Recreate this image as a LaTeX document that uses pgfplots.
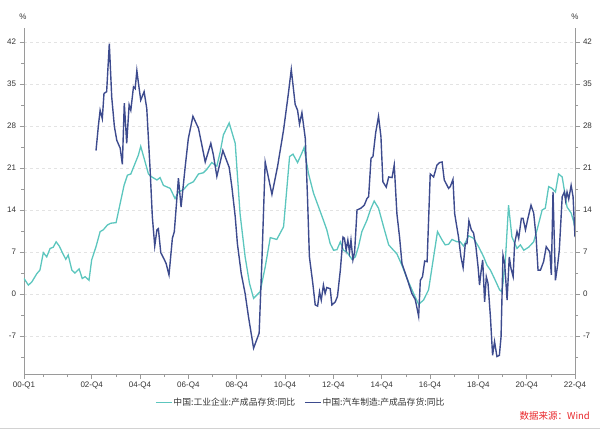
\documentclass[border=0pt]{standalone}
\usepackage{fontspec}
\setmainfont{Liberation Sans}
\newfontfamily\cjk{Noto Sans CJK SC}
\usepackage{pgfplots}
\pgfplotsset{compat=1.18}
\definecolor{teal1}{HTML}{5CC6BE}
\definecolor{navy1}{HTML}{3D4B8E}
\definecolor{axgray}{HTML}{9A9A9A}
\definecolor{srcred}{HTML}{E8262A}
\pgfplotsset{
  common/.style={
    at={(24pt,55pt)}, anchor=south west,
    scale only axis, width=551pt, height=346pt,
    xmin=2000, xmax=2022.8, ymin=-13.3, ymax=44.3,
    ytick={-7,0,7,14,21,28,35,42},
    minor ytick={-10.5,-3.5,3.5,10.5,17.5,24.5,31.5,38.5},
    tick align=outside,
    major tick length=4.5pt, minor tick length=3pt,
    axis line style={draw=axgray, line width=0.6pt},
    every tick/.style={draw=axgray, line width=0.6pt},
    tick label style={font=\fontsize{8}{9}\selectfont, text=black!80},
    /pgf/number format/assume math mode=true,
  }
}
\begin{document}
\begin{tikzpicture}
\useasboundingbox (0,0) rectangle (600pt,429pt);
\begin{axis}[common,
  axis x line*=bottom, axis y line*=left,
  xtick={2000,2002.8,2004.8,2006.8,2008.8,2010.8,2012.8,2014.8,2016.8,2018.8,2020.8,2022.8},
  xticklabels={00-Q1,02-Q4,04-Q4,06-Q4,08-Q4,10-Q4,12-Q4,14-Q4,16-Q4,18-Q4,20-Q4,22-Q4},
  minor xtick={2000.8,2001.8,2003.8,2005.8,2007.8,2009.8,2011.8,2013.8,2015.8,2017.8,2019.8,2021.8},
  ymajorgrids, major grid style={dashed, gray!22, line width=0.5pt},
  legend style={at={(axis description cs:0.2377,-0.0818)}, anchor=west, draw=none, fill=none,
    legend columns=2, font=\cjk\fontsize{8.8}{10}\selectfont, text=black!80,
    inner sep=0pt, nodes={inner sep=1pt},
    /tikz/every even column/.append style={column sep=8pt}},
  legend image code/.code={\draw[#1] (0pt,0pt) -- (16pt,0pt);},
]
\addplot[teal1, line width=1.3pt] coordinates {
(2000.00,2.6)(2000.18,1.5)(2000.32,2.0)(2000.53,3.4)(2000.66,4.0)(2000.80,6.9)(2000.94,6.2)
(2001.08,7.6)(2001.21,7.8)(2001.33,8.7)(2001.46,8.0)(2001.60,6.8)(2001.73,5.8)(2001.83,6.5)
(2001.98,4.0)(2002.11,3.5)(2002.28,4.2)(2002.41,2.6)(2002.53,2.9)(2002.69,2.3)(2002.80,5.7)
(2002.98,7.9)(2003.15,10.4)(2003.28,10.7)(2003.45,11.5)(2003.59,11.8)(2003.81,11.9)(2003.98,15.1)
(2004.14,18.1)(2004.28,19.8)(2004.42,20.0)(2004.60,21.8)(2004.73,23.1)(2004.83,24.6)(2004.97,22.6)
(2005.15,20.0)(2005.29,19.5)(2005.50,19.0)(2005.63,19.4)(2005.77,18.1)(2006.05,17.6)(2006.25,15.9)
(2006.39,17.0)(2006.60,17.4)(2006.80,18.3)(2007.01,18.7)(2007.22,20.0)(2007.42,20.2)(2007.57,20.8)
(2007.77,21.9)(2007.98,21.3)(2008.12,23.7)(2008.25,26.5)(2008.49,28.5)(2008.74,25.1)(2008.94,13.4)
(2009.15,6.2)(2009.33,1.8)(2009.50,-0.7)(2009.77,0.4)(2009.98,4.5)(2010.19,9.4)(2010.46,9.1)
(2010.74,11.2)(2010.99,22.9)(2011.13,23.3)(2011.32,21.9)(2011.50,23.5)(2011.59,24.4)(2011.77,20.1)
(2011.98,16.8)(2012.19,14.5)(2012.39,12.3)(2012.53,10.7)(2012.67,8.4)(2012.81,7.3)(2012.95,7.4)
(2013.09,8.7)(2013.22,7.3)(2013.36,7.0)(2013.57,5.8)(2013.71,6.2)(2013.84,7.9)(2013.98,10.4)
(2014.19,12.3)(2014.33,14.0)(2014.49,15.5)(2014.67,14.3)(2014.88,11.2)(2015.09,8.2)(2015.29,7.3)
(2015.43,6.7)(2015.64,4.8)(2015.85,2.6)(2016.12,0.1)(2016.33,-1.7)(2016.53,-1.0)(2016.74,0.7)
(2016.95,6.2)(2017.11,10.4)(2017.30,9.0)(2017.43,8.2)(2017.57,8.3)(2017.71,9.1)(2017.92,8.7)
(2018.05,8.7)(2018.19,8.0)(2018.40,9.7)(2018.60,9.3)(2018.81,7.9)(2019.02,6.2)(2019.16,4.8)
(2019.30,4.0)(2019.50,2.3)(2019.68,0.7)(2019.78,0.4)(2019.92,5.7)(2020.05,14.8)(2020.19,9.5)
(2020.40,7.6)(2020.54,8.2)(2020.68,7.3)(2020.88,7.8)(2021.09,8.7)(2021.23,10.7)(2021.44,14.0)
(2021.57,14.3)(2021.71,17.9)(2021.85,17.6)(2021.99,17.0)(2022.12,20.0)(2022.27,19.5)(2022.47,14.5)
(2022.64,13.5)(2022.75,12.0)(2022.80,10.9)
};
\addlegendentry{中国:工业企业:产成品存货:同比}
\addplot[navy1, line width=1.4pt] coordinates {
(2002.98,23.9)(2003.08,28.1)(2003.15,30.6)(2003.24,29.2)(2003.31,33.4)(2003.42,33.7)(2003.53,41.7)
(2003.63,32.8)(2003.74,27.9)(2003.84,25.6)(2003.98,24.3)(2004.07,21.6)(2004.15,31.8)(2004.25,25.1)
(2004.35,31.5)(2004.42,30.6)(2004.53,34.5)(2004.60,34.2)(2004.67,37.2)(2004.73,35.3)(2004.83,32.3)
(2004.97,33.7)(2005.08,30.9)(2005.22,20.6)(2005.31,12.9)(2005.41,8.0)(2005.50,10.7)(2005.56,10.9)
(2005.66,6.9)(2005.80,5.8)(2005.88,5.1)(2006.00,3.2)(2006.14,9.3)(2006.22,10.4)(2006.39,19.3)
(2006.50,14.5)(2006.67,21.2)(2006.80,25.9)(2006.99,29.6)(2007.22,27.6)(2007.36,24.8)(2007.50,22.0)
(2007.73,25.1)(2007.84,23.1)(2007.98,19.6)(2008.23,23.9)(2008.35,22.6)(2008.49,21.1)(2008.60,17.9)
(2008.74,12.9)(2008.83,8.4)(2008.99,3.4)(2009.15,0.1)(2009.29,-3.8)(2009.50,-9.0)(2009.73,-6.5)
(2009.84,5.1)(2009.98,22.0)(2010.26,16.6)(2010.49,21.2)(2010.74,27.3)(2010.94,33.4)(2011.06,37.4)
(2011.22,31.6)(2011.32,30.6)(2011.40,28.3)(2011.50,30.2)(2011.64,25.9)(2011.73,16.2)(2011.81,6.2)
(2011.95,1.8)(2012.05,-1.8)(2012.15,-2.0)(2012.23,0.4)(2012.30,-1.0)(2012.39,1.5)(2012.46,0.1)
(2012.53,1.1)(2012.67,0.9)(2012.74,-1.8)(2012.88,-1.3)(2012.97,-0.4)(2013.09,4.0)(2013.20,9.5)
(2013.26,9.3)(2013.33,7.3)(2013.40,9.0)(2013.47,7.0)(2013.53,9.0)(2013.61,5.7)(2013.68,7.0)
(2013.78,14.0)(2013.94,14.3)(2014.08,14.8)(2014.19,15.9)(2014.26,16.2)(2014.36,22.6)(2014.44,22.9)
(2014.55,26.8)(2014.67,29.6)(2014.77,26.2)(2014.85,18.7)(2014.99,17.8)(2015.09,19.5)(2015.23,19.4)
(2015.32,21.5)(2015.43,13.4)(2015.54,9.5)(2015.64,5.1)(2015.85,2.6)(2016.05,0.1)(2016.19,-0.9)
(2016.33,-3.7)(2016.40,2.3)(2016.49,2.9)(2016.58,5.5)(2016.68,5.4)(2016.81,20.0)(2016.95,19.5)
(2017.09,21.5)(2017.20,21.9)(2017.30,22.0)(2017.39,19.0)(2017.57,17.6)(2017.64,17.9)(2017.75,19.1)
(2017.82,13.4)(2017.98,9.5)(2018.08,6.2)(2018.17,4.4)(2018.26,8.4)(2018.33,8.4)(2018.41,12.2)
(2018.51,10.7)(2018.60,10.2)(2018.70,7.9)(2018.79,4.5)(2018.85,1.5)(2018.92,4.0)(2018.98,5.7)
(2019.06,-1.3)(2019.13,2.9)(2019.20,1.8)(2019.30,-3.8)(2019.39,-10.2)(2019.47,-7.9)(2019.57,-10.4)
(2019.67,-10.2)(2019.74,-7.1)(2019.82,6.5)(2019.89,5.1)(2019.99,-1.0)(2020.08,6.2)(2020.15,4.3)
(2020.24,2.9)(2020.30,8.4)(2020.40,10.4)(2020.47,9.3)(2020.58,12.6)(2020.65,12.6)(2020.75,10.7)
(2020.84,12.4)(2020.98,14.8)(2021.09,13.5)(2021.19,9.5)(2021.27,4.0)(2021.37,4.0)(2021.50,5.4)
(2021.61,7.9)(2021.76,7.0)(2021.82,3.2)(2021.89,17.0)(2021.99,2.3)(2022.08,4.8)(2022.15,7.3)
(2022.27,16.2)(2022.36,17.0)(2022.41,15.6)(2022.47,17.0)(2022.54,15.8)(2022.64,18.1)(2022.72,16.2)
(2022.80,9.5)
};
\addlegendentry{中国:汽车制造:产成品存货:同比}
\end{axis}
\begin{axis}[common,
  axis x line=none, axis y line*=right, yticklabel pos=right,
]
\end{axis}
\node[font=\fontsize{8}{9}\selectfont, text=black!80] at (23pt,412.3pt) {\%};
\node[font=\fontsize{8}{9}\selectfont, text=black!80] at (575pt,412.3pt) {\%};
\node[anchor=east, font=\cjk\fontsize{9.5}{11}\selectfont, text=srcred, inner sep=0pt] at (590pt,13.3pt) {数据来源：Wind};
\draw[gray!35, line width=1pt] (0pt,0.8pt) -- (600pt,0.8pt);
\end{tikzpicture}
\end{document}
